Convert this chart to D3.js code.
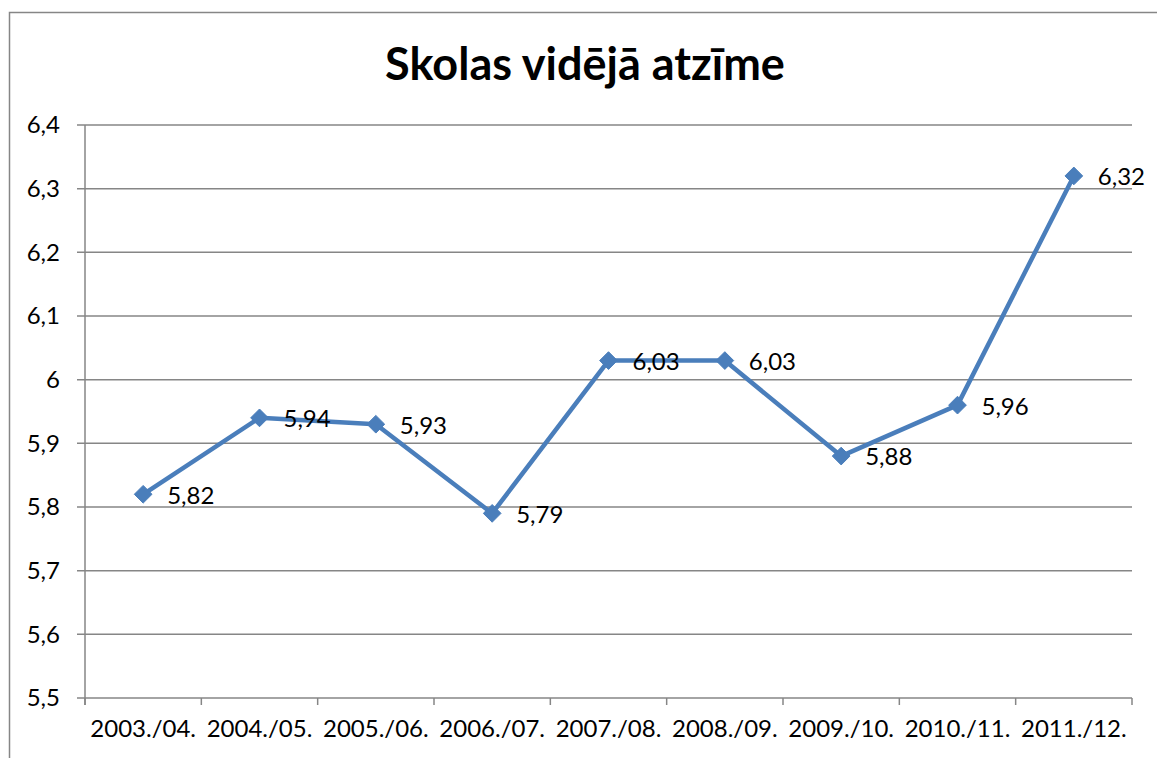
<!DOCTYPE html>
<html><head><meta charset="utf-8">
<script src="https://cdn.jsdelivr.net/npm/d3@7"></script>
<style>body{margin:0;background:#fff}svg{display:block}</style>
</head><body><svg id="c" width="1157" height="758"></svg>
<script>
const categories = ["2003./04.","2004./05.","2005./06.","2006./07.","2007./08.","2008./09.","2009./10.","2010./11.","2011./12."];
const values = [5.82,5.94,5.93,5.79,6.03,6.03,5.88,5.96,6.32];
const labels = ["5,82","5,94","5,93","5,79","6,03","6,03","5,88","5,96","6,32"];
const yTicks = [5.5,5.6,5.7,5.8,5.9,6.0,6.1,6.2,6.3,6.4];
const title = "Skolas vidējā atzīme";

const svg = d3.select("#c");
const font = "Lato, 'Open Sans', sans-serif";
const L=85, R=1132, T=125, B=698;
svg.append("rect").attr("x",9.5).attr("y",12.5).attr("width",1200).attr("height",800)
  .attr("fill","none").attr("stroke","#868686").attr("stroke-width",1.5);

const x = d3.scaleBand().domain(categories).range([L,R]).padding(0);
const y = d3.scaleLinear().domain([5.5,6.4]).range([B,T]);
const fmt = d => d3.format(".1f")(d).replace(".",",").replace(/,0$/,"");

svg.append("g").selectAll("line").data(yTicks).join("line")
  .attr("x1",L-8).attr("x2",R).attr("y1",d=>y(d)).attr("y2",d=>y(d))
  .attr("stroke","#868686").attr("stroke-width",1.5);
svg.append("line").attr("x1",L).attr("x2",L).attr("y1",T).attr("y2",B+7).attr("stroke","#868686").attr("stroke-width",1.5);
const xt = categories.map((c,i)=>i).concat([categories.length]);
svg.append("g").selectAll("line").data(xt).join("line")
  .attr("x1",i=>L+i*x.bandwidth()).attr("x2",i=>L+i*x.bandwidth())
  .attr("y1",B).attr("y2",B+7).attr("stroke","#868686").attr("stroke-width",1.5);

svg.append("g").selectAll("text").data(yTicks).join("text")
  .attr("x",60).attr("y",d=>y(d)).attr("dy","0.35em").attr("text-anchor","end")
  .attr("font-family",font).attr("font-size",24).attr("fill","#000").text(fmt);

svg.append("g").selectAll("text").data(categories).join("text")
  .attr("x",d=>x(d)+x.bandwidth()/2).attr("y",729).attr("dy","0.35em").attr("text-anchor","middle")
  .attr("font-family",font).attr("font-size",24).attr("fill","#000").text(d=>d);

svg.append("text").attr("x",585).attr("y",64).attr("dy","0.35em").attr("text-anchor","middle")
  .attr("font-family",font).attr("font-weight","bold").attr("font-size",45).text(title);

const cx = (d,i)=>x(categories[i])+x.bandwidth()/2;
const line = d3.line().x((d,i)=>cx(d,i)).y(d=>y(d));
svg.append("path").datum(values).attr("d",line).attr("fill","none")
  .attr("stroke","#4A7EBB").attr("stroke-width",4.5).attr("stroke-linejoin","round");
svg.append("g").selectAll("path").data(values).join("path")
  .attr("d",d3.symbol(d3.symbolDiamond2,200)())
  .attr("transform",(d,i)=>`translate(${cx(d,i)},${y(d)})`)
  .attr("fill","#4A7EBB").attr("stroke","#4A7EBB").attr("stroke-width",1);
svg.append("g").selectAll("text").data(values).join("text")
  .attr("x",(d,i)=>cx(d,i)+24).attr("y",d=>y(d)+1).attr("dy","0.35em")
  .attr("font-family",font).attr("font-size",24).attr("fill","#000").text((d,i)=>labels[i]);
</script></body></html>
